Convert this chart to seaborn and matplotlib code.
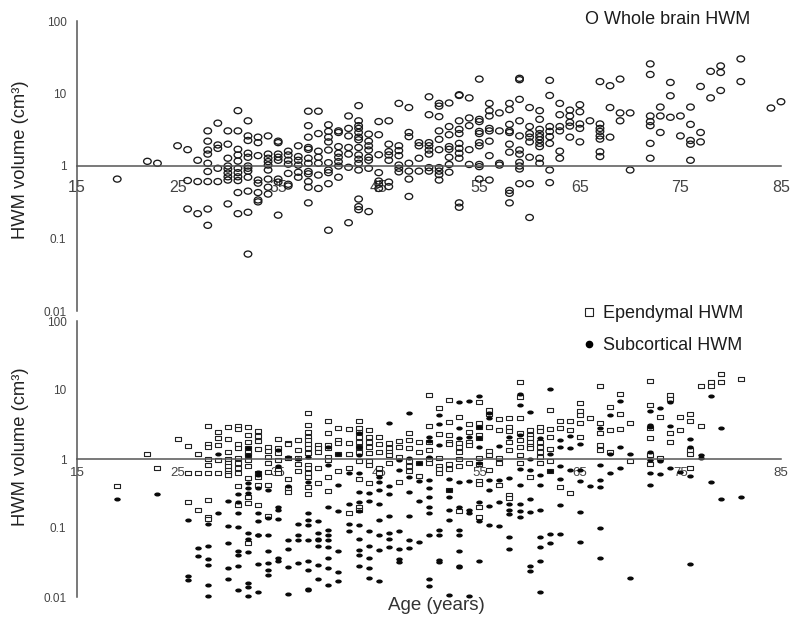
import matplotlib
matplotlib.use('Agg')
import matplotlib.pyplot as plt
import pandas as pd
import seaborn as sns
from matplotlib.lines import Line2D
from matplotlib.path import Path
from matplotlib.transforms import Affine2D

# values, one row per age
whole_ages = [19, 22, 23, 25, 26, 27, 28, 29, 30, 31, 32, 33, 34, 35, 36, 37, 38, 39, 40, 41, 42, 43, 44, 45, 46, 47,
              48, 49, 50, 51, 52, 53, 54, 55, 56, 57, 58, 59, 60, 61, 62, 63, 64, 65, 66, 67, 68, 69, 70, 72, 73, 74,
              75, 76, 77, 78, 79, 81, 84, 85]
whole_vols = [
    [.66], [1.16], [1.09], [1.9], [1.68, .63, .255], [1.2, .61, .22],
    [3.05, 2.2, 1.66, 1.46, 1.09, .84, .61, .255, .152],
    [3.9, 1.95, 1.75, .93, .61],
    [3.05, 2.0, 1.28, 1.0, .91, .8, .71, .64, .30],
    [5.8, 3.05, 1.7, 1.42, 1.17, .93, .81, .71, .63, .43, .22],
    [4.2, 2.6, 2.25, 1.5, 1.32, 1.0, .93, .85, .7, .45, .23, .061],
    [2.5, 2.1, 1.39, .64, .58, .43, .34, .32],
    [2.6, 1.46, 1.28, 1.15, 1.03, .88, .66, .51, .41],
    [2.2, 2.1, 1.46, 1.32, 1.2, .66, .6, .21],
    [1.6, 1.42, 1.2, 1.06, .79, .56, .53],
    [1.9, 1.35, 1.2, 1.03, .82, .7],
    [5.7, 3.6, 2.5, 1.8, 1.7, 1.28, 1.09, .84, .78, .61, .51, .31],
    [5.7, 2.8, 1.6, 1.32, 1.09, .75, .49],
    [3.7, 3.0, 2.5, 2.15, 1.66, 1.11, .88, .81, .57, .13],
    [3.05, 2.9, 1.85, 1.5, 1.32, 1.15, 1.0, .7],
    [4.9, 3.3, 2.6, 1.8, 1.46, .96, .165],
    [6.8, 4.2, 3.6, 3.3, 2.9, 2.5, 2.3, 1.8, 1.42, 1.24, 1.09, .88, .35, .275, .25],
    [2.75, 2.2, 1.9, 1.66, 1.32, 1.2, .93, .235],
    [4.1, 2.7, 1.43, .81, .62, .56, .49],
    [4.2, 2.0, 1.58, 1.42, 1.2, .6, .52],
    [7.3, 1.9, 1.63, 1.39, 1.03, .93, .83],
    [6.4, 2.9, 2.54, 1.09, .85, .66, .38],
    [2.1, 1.9, 1.28, .85],
    [9.0, 5.1, 2.1, 1.9, 1.66, 1.46, .95, .85],
    [7.3, 6.7, 4.8, 3.05, 2.33, 1.68, .95, .85, .76, .64],
    [7.4, 3.5, 2.7, 1.85, 1.7, 1.32, 1.05, .82],
    [9.6, 9.4, 4.2, 3.2, 2.8, 2.05, 1.75, 1.5, 1.28, .31, .27],
    [8.7, 4.6, 3.6, 1.68, 1.05],
    [15.8, 4.4, 4.1, 3.0, 2.8, 2.1, 1.9, 1.05, .98, .66],
    [7.3, 5.8, 4.9, 3.3, 3.05, 2.2, 1.39, .64],
    [5.4, 3.05, 1.09, 1.03],
    [7.3, 6.0, 3.75, 3.05, 2.9, 2.0, 1.55, .46, .42, .31],
    [16.2, 15.5, 8.3, 4.2, 2.6, 1.66, 1.46, 1.12, 1.0, .91, .57],
    [6.4, 3.5, 2.8, 2.5, 2.15, 1.32, .57, .195],
    [5.8, 4.4, 3.2, 2.8, 2.54, 2.3, 2.05, 1.85, 1.28, 1.09],
    [15.2, 9.4, 3.5, 3.0, 2.54, 2.05, .88, .59],
    [7.3, 5.1, 3.5, 3.05, 1.6, 1.28],
    [5.9, 4.9, 4.0, 3.55, 2.5],
    [7.0, 5.6, 3.8, 3.3, 2.15],
    [4.2],
    [14.6, 3.8, 3.3, 3.0, 2.6, 2.35, 1.57, 1.35],
    [12.8, 6.4, 2.5],
    [15.8, 5.4, 4.2],
    [5.4, .88],
    [25.6, 18.3, 4.9, 4.1, 3.6, 2.05, 1.28],
    [6.5, 4.9, 2.9],
    [14.2, 9.3, 4.7],
    [4.9, 2.6],
    [6.5, 3.75, 2.25, 2.0, 1.2],
    [12.5, 2.9, 2.15],
    [20.2, 8.7],
    [24.0, 19.5, 11.0],
    [30.0, 14.6],
    [6.3],
    [7.7],
]

epen_ages = [19, 22, 23, 25, 26, 27, 28, 29, 30, 31, 32, 33, 34, 35, 36, 37, 38, 39, 40, 41, 42, 43, 44, 45, 46, 47,
             48, 49, 50, 51, 52, 53, 54, 55, 56, 57, 58, 59, 60, 61, 62, 63, 64, 65, 66, 67, 68, 69, 70, 72, 73, 74,
             75, 76, 77, 78, 79, 81]
epen_vols = [
    [.41], [1.18], [.75], [1.92], [1.56, .63, .24], [1.2, .62, .18],
    [3.05, 1.65, 1.5, 1.0, .82, .63, .255, .146, .135],
    [2.5, 2.03, 1.6, .98, .63],
    [2.95, 1.92, 1.26, 1.0, .87, .78, .7, .62, .58],
    [3.05, 2.75, 1.65, 1.43, 1.02, .87, .73, .63, .41, .215],
    [2.95, 2.25, 1.78, 1.43, 1.28, 1.14, .98, .78, .53, .285, .23, .06],
    [2.55, 2.15, 1.85, 1.38, .63, .54, .42, .215],
    [1.5, 1.32, 1.08, .87, .64, .42, .15],
    [1.92, 1.46, 1.21, .98, .7, .62],
    [1.72, 1.63, 1.05, .51, .38, .33],
    [1.88, 1.35, 1.02, .85, .68],
    [4.6, 3.1, 2.5, 2.1, 1.88, 1.65, 1.43, 1.21, .82, .73, .62, .55, .39, .315],
    [1.6, 1.43, 1.28, .73, .45],
    [3.6, 2.4, 1.6, 1.43, 1.08, .98, .55, .34],
    [2.8, 1.88, 1.7, 1.2, .68],
    [2.75, 1.7, 1.18, .75, .165],
    [3.6, 2.85, 2.45, 2.1, 1.78, 1.5, 1.28, .95, .51, .2, .18],
    [2.6, 2.1, 1.78, 1.5, 1.21, .94, .82, .445],
    [2.1, 1.65, 1.28, .75, .63],
    [1.7, 1.43, 1.28, 1.13, .87],
    [1.82, 1.5, 1.08, .46],
    [2.4, 1.9, 1.46, .92, .78, .67],
    [1.78, 1.26, .87, .57],
    [8.5, 3.05, 1.78, 1.35, 1.0, .87],
    [5.4, 2.3, 1.02, .8, .72, .63],
    [7.2, 3.4, 2.2, 1.78, 1.63, .84, .72, .35],
    [4.0, 1.7, 1.5, 1.25, 1.0, .8, .178],
    [3.2, 2.5, 1.78, 1.58, .87],
    [6.6, 3.3, 2.95, 2.25, 2.0, 1.02, .85, .48, .43, .2, .145],
    [5.2, 4.5, 2.95, 1.32, 1.13, .7],
    [3.8, 2.6, 1.02, .88, .42],
    [3.9, 2.95, 2.55, 1.78, 1.35, .3, .27],
    [13.0, 7.8, 3.9, 2.35, 1.9, 1.5, 1.13, .87],
    [2.6, 2.2, 2.0, 1.78, 1.56, 1.43, .54],
    [2.9, 2.55, 1.78, 1.5, 1.28, 1.08, .87],
    [5.2, 2.7, 2.05, 1.4, .92, .66],
    [3.6, 2.85, .39],
    [3.6, 2.6, .32],
    [6.4, 5.0, 4.4, 3.3, 2.1],
    [3.9],
    [11.5, 3.3, 2.4, 1.6, 1.35],
    [5.7, 2.6, 1.28],
    [8.8, 4.5, 2.7],
    [3.3, .95],
    [13.5, 6.0, 2.8, 2.0, 1.13, .86],
    [4.0, 1.05],
    [8.6, 7.5, 2.35, 1.75],
    [4.0, 2.6],
    [4.5, 3.5, 1.35, 1.17, .75],
    [11.3, 3.0],
    [13.0, 11.3],
    [17.0, 13.0],
    [14.3],
]

sub_ages = [19, 23, 26, 27, 28, 29, 30, 31, 32, 33, 34, 35, 36, 37, 38, 39, 40, 41, 42, 43, 44, 45, 46, 47, 48, 49,
            50, 51, 52, 53, 54, 55, 56, 57, 58, 59, 60, 61, 62, 63, 64, 65, 66, 67, 68, 69, 70, 72, 73, 74, 75, 76,
            77, 78, 79, 81]
sub_vols = [
    [.265], [.315], [.13, .02, .0175], [.051, .039],
    [.115, .054, .035, .029, .015, .0105],
    [1.2, .167],
    [.25, .108, .06, .026, .018],
    [.31, .24, .165, .104, .046, .041, .028, .0125],
    [1.43, 1.13, .445, .38, .32, .085, .07, .045, .016, .014, .0105],
    [.65, .58, .38, .167, .125, .08, .078, .03, .012],
    [.35, .14, .078, .046, .031, .025, .021],
    [1.35, .78, .2, .18, .135, .037, .033],
    [1.08, .4, .066, .05, .027, .011],
    [1.0, .115, .08, .068, .031],
    [1.08, .47, .165, .13, .11, .066, .033, .025, .013, .0125],
    [.128, .085, .07, .066, .054, .029, .018],
    [1.5, .82, .2, .095, .08, .066, .053, .037, .026, .015],
    [1.2, .42, .178, .046, .023, .017],
    [.62, .22, .115, .09],
    [2.35, 1.5, 1.13, .62, .335, .24, .178, .11, .07, .048, .04, .028],
    [.32, .245, .089, .054, .037, .026, .019],
    [.54, .47, .35, .22, .13, .078, .048, .017],
    [3.3, .41, .31, .15, .086, .069, .053],
    [.97, .7, .089, .05, .035, .032],
    [4.7, 1.02, .55, .335, .15, .066, .051],
    [.87, .48, .245, .062],
    [2.1, 1.8, 1.08, .5, .38, .28, .2, .165, .08, .018, .0145],
    [4.3, 3.2, 1.6, .092, .078, .034, .032],
    [.52, .35, .28, .185, .13, .0108],
    [6.6, 2.8, 2.03, .47, .2, .092, .08, .047, .028, .027],
    [6.9, 2.1, .48, .18, .165, .0105],
    [8.2, 2.95, 2.0, 1.5, .87, .24, .125, .033],
    [4.6, 3.9, .5, .355, .21, .11],
    [1.55, .5, .235, .107],
    [2.1, .525, .22, .18, .16, .073, .05],
    [8.8, 6.0, 2.2, .71, .42, .22, .178, .143],
    [4.8, 1.0, .7, .26, .172, .028, .024],
    [2.0, .58, .42, .18, .073, .053, .033, .012],
    [10.2, 1.2, .68, .081, .06],
    [1.88, 1.5, .79, .51, .215, .083],
    [2.15, 1.46, .69],
    [1.63, .7, .48, .168, .062],
    [.41],
    [2.8, .82, .5, .39, .1, .037],
    [4.4, 1.2, .62],
    [7.0, 1.49, .74],
    [1.18, .019],
    [5.0, 3.1, 2.95, 1.28, .97, .62, .42],
    [5.4, .92, .6],
    [6.6, 3.0, .74],
    [.65],
    [1.92, 1.48, .57, .03],
    [1.13, 1.02],
    [8.3, .47],
    [2.8, .265],
    [.28],
]

age_ticks = [15, 25, 35, 45, 55, 65, 75, 85]
vol_ticks = [0.01, 0.1, 1, 10, 100]
top_tick_labels = ['0.01', '0.1', '1', '10', '100']
bottom_tick_labels = ['0.01', '0.1', '1', '10', '100']

AXIS_COL = '#555555'
TEXT_COL = '#444444'


def make_frame(ages, vols):
    df = pd.DataFrame({'age': ages, 'vol': vols}).explode('vol')
    df['vol'] = df['vol'].astype(float)
    return df


def squashed(path, sx, sy):
    return path.transformed(Affine2D().scale(sx, sy))


def style_axis(ax, labels, x_size, x_pad, y_size):
    ax.set_xscale('linear')
    ax.set_yscale('log')
    ax.set_xlim(15, 85)
    ax.set_ylim(0.01, 100)
    ax.set_xlabel('')
    ax.patch.set_alpha(0)
    for side in ['top', 'right']:
        ax.spines[side].set_visible(False)
    ax.spines['bottom'].set_position(('data', 1))
    for side in ['bottom', 'left']:
        ax.spines[side].set_color(AXIS_COL)
        ax.spines[side].set_linewidth(1.1)
    ax.set_xticks(age_ticks)
    ax.set_yticks(vol_ticks)
    ax.set_yticklabels(labels)
    ax.minorticks_off()
    ax.tick_params(axis='x', direction='in', length=3, width=0.9, color=AXIS_COL, labelcolor=TEXT_COL,
                   labelsize=x_size, pad=x_pad)
    ax.tick_params(axis='y', direction='out', length=3.6, width=1.0, color=AXIS_COL, labelcolor=TEXT_COL,
                   labelsize=y_size, pad=4)
    ax.set_ylabel('HWM volume (cm³)', fontsize=13.2, color='#222222', labelpad=0)


sns.set_theme(style='white')
plt.rcParams['font.family'] = ['Liberation Sans', 'DejaVu Sans']

W, H = 800, 623
fig = plt.figure(figsize=(W / 100, H / 100), dpi=100)
ax1 = fig.add_axes([77 / W, 1 - 311 / H, 704 / W, 290 / H])
ax2 = fig.add_axes([77 / W, 1 - 597 / H, 704 / W, 276 / H])

ellipse = squashed(Path.unit_circle(), 1.0, 0.8)
box = Path.unit_rectangle().transformed(Affine2D().translate(-0.5, -0.5).scale(1.0, 0.58))
blob = squashed(Path.unit_circle(), 1.0, 0.62)

sns.scatterplot(data=make_frame(whole_ages, whole_vols), x='age', y='vol', marker=ellipse, s=30,
                facecolor='none', edgecolor='#1a1a1a', linewidth=0.95, ax=ax1, clip_on=False)
sns.scatterplot(data=make_frame(epen_ages, epen_vols), x='age', y='vol', marker=box, s=20,
                facecolor='white', edgecolor='#222222', linewidth=0.8, ax=ax2, clip_on=False)
sns.scatterplot(data=make_frame(sub_ages, sub_vols), x='age', y='vol', marker=blob, s=22,
                color='#0a0a0a', linewidth=0, ax=ax2, clip_on=False)

style_axis(ax1, top_tick_labels, 11.5, 10, 8.5)
style_axis(ax2, bottom_tick_labels, 9.5, 6, 8.5)
ax1.yaxis.set_label_coords(-48 / 704, (311 - 160) / 290)
ax2.yaxis.set_label_coords(-48 / 704, (597 - 447) / 276)

fig.text(585 / W, 1 - 20 / H, 'O Whole brain HWM', fontsize=13, color='#1c1c1c', va='center', ha='left')
fig.text(436 / W, 1 - 606 / H, 'Age (years)', fontsize=13.5, color='#333333', va='center', ha='center')

handles = [
    Line2D([], [], ls='', marker='s', ms=6, mfc='white', mec='#222222', mew=0.8, label='Ependymal HWM'),
    Line2D([], [], ls='', marker='o', ms=4.5, mfc='black', mec='black', label='Subcortical HWM'),
]
ax2.legend(handles=handles, loc='upper left', bbox_to_anchor=(567 / W, 1 - 296 / H), bbox_transform=fig.transFigure,
           frameon=False, fontsize=13, labelcolor='#1c1c1c', labelspacing=0.85, handletextpad=0.1, borderpad=0,
           handlelength=1.4)

fig.savefig('out.png', dpi=100)
